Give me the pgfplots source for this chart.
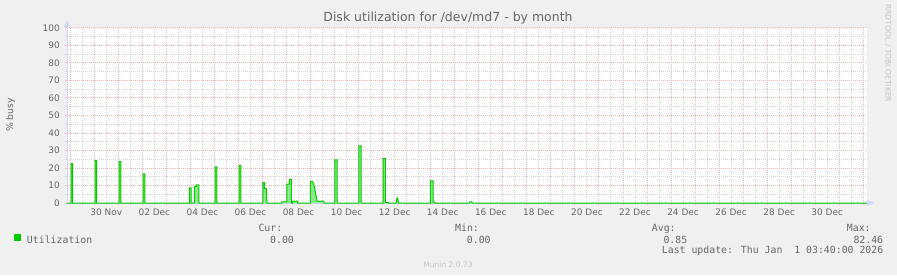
\documentclass[border=0pt]{standalone}
\usepackage{pgfplots}
\usepackage{pgfplotstable}
\pgfplotsset{compat=1.18}
\usepackage{fontspec}
\setmainfont{DejaVu Sans}
\newfontfamily\legendfont{DejaVu Sans Mono}

\definecolor{munback}{HTML}{F0F0F0}
\definecolor{munfont}{HTML}{666666}
\definecolor{munaxis}{HTML}{CFD6F8}
\definecolor{mungrid}{HTML}{D4D4D4}
\definecolor{munmgrid}{HTML}{F5B6B6}
\definecolor{mungreen}{HTML}{00CC00}
\definecolor{munfill}{HTML}{8CE88C}
\definecolor{munmark}{HTML}{C4C4C4}

\newcommand\axisfont{\fontsize{8.95bp}{10bp}\selectfont}
\newcommand\legfont{\legendfont\fontsize{9.85bp}{12bp}\selectfont}

% disk utilization, hours since 30 Nov 00:00 vs. % busy
\pgfplotstableread{
h      busy
-27.3  0
-23.3  0
-23.3  22.5
-21.6  22.5
-21.6  0
0.7    0
0.7    24.2
2.4    24.2
2.4    0
24.7   0
24.7   23.6
26.4   23.6
26.4   0
48.7   0
48.7   16.7
50.4   16.7
50.4   0
95.0   0
95.0   8.7
96.7   8.7
96.7   0
100.0  0
100.0  9.5
102.0  9.5
102.0  10.3
104.4  10.3
104.4  0
120.7  0
120.7  20.7
122.4  20.7
122.4  0
144.7  0
144.7  21.3
146.4  21.3
146.4  0
168.4  0
168.4  11.6
169.7  11.6
169.7  8.2
171.7  8.2
172.4  0
187.4  0
187.4  0.7
192.4  0.7
192.4  10.8
194.7  10.8
194.7  13.3
196.7  13.3
196.7  0
198.0  0
198.0  1.1
203.0  1.1
203.0  0
215.7  0
215.7  12.2
218.0  12.2
219.7  9.5
221.4  4.4
222.4  1.1
229.0  1.1
229.7  0
240.3  0
240.3  24.7
242.5  24.7
242.5  0
264.3  0
264.3  32.7
266.5  32.7
266.5  0
288.3  0
288.3  25.3
290.6  25.3
290.6  0.3
293.7  0.3
293.7  0
301.5  0
302.3  3.0
303.0  3.0
303.7  0
335.7  0
335.7  12.7
338.4  12.7
338.4  0.5
340.0  0.5
340.0  0
374.7  0
375.2  0.6
377.0  0.6
377.4  0
771.7  0
}\utiltable

\begin{document}
\begin{tikzpicture}[x=1bp,y=1bp]
\fill[munback] (0,0) rectangle (897,275);
\useasboundingbox (0,0) rectangle (897,275);

\begin{axis}[
  name=ax,
  at={(67bp,72bp)}, anchor=south west,
  scale only axis, width=800bp, height=175bp,
  xmin=-27.3, xmax=771.7, ymin=0, ymax=100,
  axis background/.style={fill=white},
  axis x line*=bottom, axis y line*=left,
  axis line style={draw=munaxis, line width=1bp, -},
  tick pos=left,
  xtick={-24,0,...,768},
  xticklabels={{},{30 Nov},{},{02 Dec},{},{04 Dec},{},{06 Dec},{},{08 Dec},{},{10 Dec},{},{12 Dec},{},{14 Dec},{},{16 Dec},{},{18 Dec},{},{20 Dec},{},{22 Dec},{},{24 Dec},{},{26 Dec},{},{28 Dec},{},{30 Dec},{},{}},
  minor xtick={-12,12,...,756},
  ytick={0,10,...,100},
  minor ytick={5,15,...,95},
  grid=both,
  major grid style={draw=munmgrid, line width=1bp, dash pattern=on 1bp off 1bp},
  minor grid style={draw=mungrid, line width=1bp, dash pattern=on 1bp off 1bp},
  tick align=outside,
  major tick length=2bp, minor tick length=2bp,
  major tick style={draw=munmgrid, line width=1bp},
  minor tick style={draw=mungrid, line width=1bp},
  /pgf/number format/assume math mode=true,
  xticklabel style={font=\axisfont, text=munfont, inner sep=0pt, anchor=north, xshift=12bp, yshift=-3.7bp},
  yticklabel style={font=\axisfont, text=munfont, inner sep=0pt, anchor=east, xshift=-5bp},
  legend style={at={(axis description cs:-0.06625,-0.21)}, anchor=west,
    draw=none, fill=none, inner sep=0pt, outer sep=0pt,
    nodes={inner sep=0pt, text=munfont}, font=\legfont, column sep=6bp},
  legend image code/.code={\fill[mungreen] (0bp,0.3bp) rectangle (6bp,6.3bp);},
]
% soft shading under the line, then the line itself
\addplot[draw=none, fill=munfill, forget plot] table[x=h, y=busy] {\utiltable} \closedcycle;
\addplot[mungreen, line width=1bp, mark=none] table[x=h, y=busy] {\utiltable};
\addlegendentry{Utilization}
\end{axis}

% axis arrows
\fill[munaxis] (64,248) -- (70,248) -- (67,255) -- cycle;
\draw[munaxis, line width=1bp] (67,247) -- (67,249);
\fill[munaxis] (867,69) -- (867,75) -- (874,72) -- cycle;

% title and axis label
\node[font=\fontsize{12.5bp}{14bp}\selectfont, text=munfont, inner sep=0pt] at (448,257) {Disk utilization for /dev/md7 - by month};
\node[font=\fontsize{9.3bp}{11bp}\selectfont, text=munfont, inner sep=0pt, rotate=90] at (10.5,160) {\% busy};

% legend columns
\begin{scope}[every node/.style={font=\legfont, text=munfont, inner sep=0pt, anchor=base west}]
\node at (258.3,43.1) {Cur:};
\node at (270.0,31.7) {0.00};
\node at (455.0,43.1) {Min:};
\node at (466.7,31.7) {0.00};
\node at (651.7,43.1) {Avg:};
\node at (663.3,31.7) {0.85};
\node at (846.7,43.1) {Max:};
\node at (853.3,31.7) {82.46};
\node at (661.7,21.4) {Last update: Thu Jan\ \ 1 03:40:00 2026};
\end{scope}

% watermarks
\node[font=\fontsize{7.5bp}{9bp}\selectfont, text=munmark, inner sep=0pt] at (448,10.7) {Munin 2.0.73};
\node[font=\fontsize{7.6bp}{9bp}\selectfont, text=munmark, inner sep=0pt, rotate=-90] at (888,221.7) {RRDTOOL / TOBI OETIKER};
\end{tikzpicture}
\end{document}
